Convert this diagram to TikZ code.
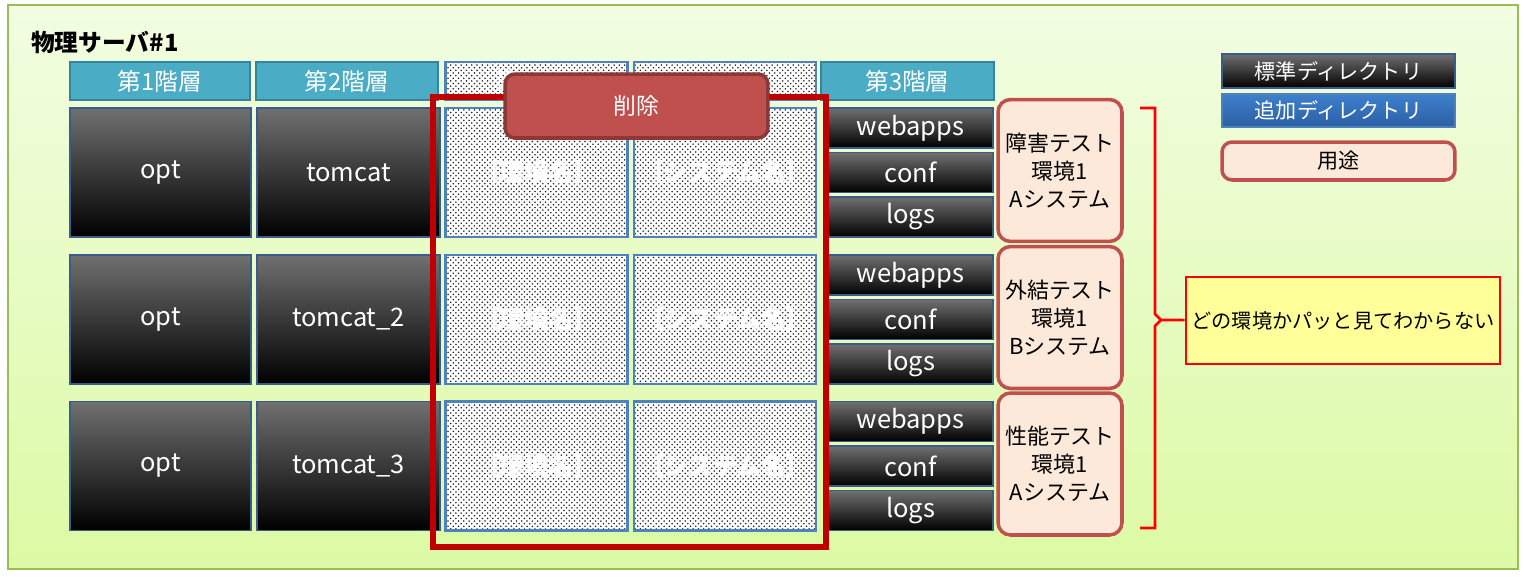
\documentclass[tikz,border=0pt]{standalone}
\usepackage{fontspec}
\setmainfont{Noto Sans CJK JP}
\usetikzlibrary{patterns,positioning,calc}

\definecolor{bgline}{RGB}{155,187,89}
\definecolor{bgtop}{RGB}{242,253,226}
\definecolor{bgbot}{RGB}{220,250,164}
\definecolor{headteal}{RGB}{75,172,198}
\definecolor{headline}{RGB}{49,133,156}
\definecolor{dirline}{RGB}{56,93,138}
\definecolor{dirtop}{RGB}{112,112,112}
\definecolor{dotline}{RGB}{79,129,189}
\definecolor{usefill}{RGB}{253,233,217}
\definecolor{useline}{RGB}{192,80,77}
\definecolor{delline}{RGB}{140,56,54}
\definecolor{cutred}{RGB}{192,0,0}
\definecolor{notefill}{RGB}{255,255,153}
\definecolor{addtop}{RGB}{62,127,204}
\definecolor{addbot}{RGB}{44,96,164}

\tikzset{
  head/.style={draw=headline, line width=1.5pt, fill=headteal, text=white,
    minimum height=0.76cm, inner sep=0pt, font=\fontsize{13.5}{15}\selectfont},
  dir/.style={draw=dirline, line width=0.8pt, top color=dirtop, bottom color=black,
    text=white, minimum height=2.58cm, inner sep=0pt, font=\fontsize{14.5}{16}\selectfont},
  subdir/.style={dir, minimum width=3.3cm, minimum height=0.8cm},
  dotbox/.style={draw=dotline, line width=1.2pt, preaction={fill=white},
    pattern=crosshatch dots, pattern color=black!85, text=white,
    minimum width=3.64cm, inner sep=0pt, font=\bfseries\fontsize{14}{16}\selectfont},
  usebox/.style={draw=useline, line width=2pt, fill=usefill, rounded corners=0.25cm,
    minimum width=2.48cm, minimum height=2.84cm, inner sep=0pt, align=center,
    font=\fontsize{12.5}{16}\selectfont},
  legend/.style={minimum width=4.66cm, inner sep=0pt, text=white,
    font=\fontsize{12}{14}\selectfont}
}

\begin{document}
\begin{tikzpicture}[x=0.02cm, y=-0.02cm]
  \useasboundingbox (0,0) rectangle (1526,579);

  % Background
  \shade[top color=bgtop, bottom color=bgbot, draw=bgline, line width=1.5pt]
    (8,5) rectangle (1518,569);
  \node[anchor=west, font=\bfseries\fontsize{13.5}{15}\selectfont] (title) at (25,42) {物理サーバ\#1};

  % Header row
  \node[head, minimum width=3.6cm] (h1) at (160,81) {第1階層};
  \node[head, minimum width=3.64cm] (h2) at (347,81) {第2階層};
  \node[dotbox, minimum height=0.76cm, font=\fontsize{13.5}{15}\selectfont] (h3) at (536.5,81) {第3階層};
  \node[dotbox, minimum height=0.76cm] (h4) at (725,81) {};
  \node[head, minimum width=3.46cm] (h5) at (907.5,81) {第3階層};

  % Directory rows
  \foreach \r/\y/\tc/\use/\sys in {1/172.5/tomcat/障害テスト/A,
      2/319.5/tomcat\_2/外結テスト/B, 3/466/tomcat\_3/性能テスト/A} {
    \node[dir, minimum width=3.62cm] (opt\r) at (160.5,\y) {opt};
    \node[dir, minimum width=3.66cm] (tc\r) at (348.5,\y) {\tc};
    \node[dotbox, minimum height=2.58cm] (env\r) at (536.5,\y) {［環境名］};
    \node[dotbox, minimum height=2.58cm] (sys\r) at (725,\y) {［システム名］};
    \node[subdir] (web\r) at (910.5,{\y-44.5}) {webapps};
    \node[subdir] (conf\r) at (910.5,\y) {conf};
    \node[subdir] (logs\r) at (910.5,{\y+44.5}) {logs};
    \node[usebox] (use\r) at (1060,{\y-2}) {\use\\環境1\\\sys システム};
  }

  % Removed part
  \draw[cutred, line width=3pt] (433,97) rectangle (826,547);
  \node[draw=delline, line width=2pt, fill=useline, rounded corners=0.2cm, text=white,
    minimum width=5.26cm, minimum height=1.28cm, font=\fontsize{13}{15}\selectfont]
    (del) at (636.5,106) {削除};

  % Brace and note
  \node[draw=red, line width=1.5pt, fill=notefill, minimum width=6.28cm, minimum height=1.74cm,
    inner sep=0pt, font=\fontsize{11.5}{13}\selectfont] (note) at (1343,320.5) {どの環境かパッと見てわからない};
  \coordinate (tip) at (1161,320);
  \draw[red, line width=1.5pt] (1140,108) -| (1155,314) -- (tip) -- (1155,326) |- (1140,528);
  \draw[red, line width=1.5pt] (tip) -- (note);

  % Legend
  \node[legend, draw=dirline, line width=0.8pt, top color=dirtop, bottom color=black,
    minimum height=0.68cm] (std) at (1338.5,71) {標準ディレクトリ};
  \node[legend, draw=dotline, line width=0.8pt, top color=addtop, bottom color=addbot,
    minimum height=0.66cm] (add) at (1338.5,110.5) {追加ディレクトリ};
  \node[legend, draw=useline, line width=2pt, fill=usefill, rounded corners=0.2cm,
    text=black, minimum height=0.76cm] (usage) at (1338.5,161) {用途};
\end{tikzpicture}
\end{document}
